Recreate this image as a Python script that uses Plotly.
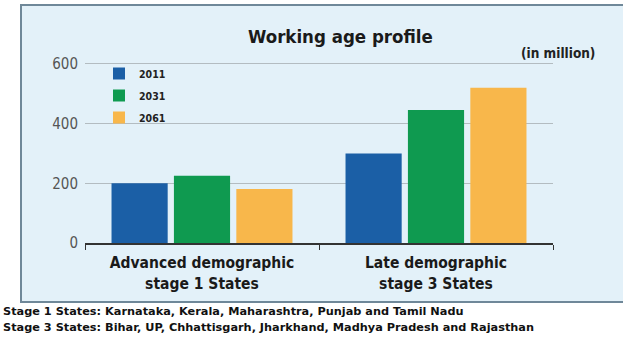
import plotly.graph_objects as go

categories = ["Advanced demographic<br>stage 1 States", "Late demographic<br>stage 3 States"]
years = ["2011", "2031", "2061"]
values_2011 = [200, 300]
values_2031 = [225, 446]
values_2061 = [181, 520]
series = [values_2011, values_2031, values_2061]
colors = ["#1b5fa6", "#0f9a50", "#f8b74b"]
ytickvals = [0, 200, 400, 600]

FONT = "DejaVu Sans Condensed"

fig = go.Figure()
for yr, vals, col in zip(years, series, colors):
    fig.add_trace(go.Bar(x=categories, y=vals, name="<b>" + yr + "</b>", legendgroup=yr,
                         marker=dict(color=col, line=dict(width=0))))

W, H = 623, 338
L, R, T, B = 85, 70, 61, 95
pw, ph = W - L - R, H - T - B

def px_x(x):
    return (x - L) / pw

def px_y(y):
    return (H - B - y) / ph

fig.update_layout(
    width=W, height=H,
    margin=dict(l=L, r=R, t=T, b=B),
    paper_bgcolor="white",
    plot_bgcolor="rgba(0,0,0,0)",
    barmode="group",
    bargap=0.2,
    bargroupgap=0.1,
    font=dict(family=FONT, color="#222222"),
    showlegend=True,
    legend=dict(x=px_x(99), y=px_y(59), xanchor="left", yanchor="top",
                bgcolor="rgba(0,0,0,0)", font=dict(size=10.5, family=FONT, color="#222"),
                itemwidth=30, tracegroupgap=3),
    xaxis=dict(showline=True, linecolor="#333", linewidth=1.5, ticks="outside",
               tickson="boundaries", ticklen=5, tickcolor="#333", ticklabelstandoff=5,
               tickfont=dict(size=15.5, family=FONT, color="#1a1a1a", weight="bold")),
    yaxis=dict(range=[0, 610], tickvals=ytickvals, showgrid=True, gridcolor="#b3bcc1",
               gridwidth=1, zeroline=False, showline=False,
               tickfont=dict(size=15, family=FONT, color="#555"), ticks="outside",
               ticklen=3, tickcolor="rgba(0,0,0,0)"),
    shapes=[
        dict(type="rect", xref="paper", yref="paper", x0=px_x(21), x1=px_x(640),
             y0=px_y(302), y1=px_y(5), fillcolor="#e3f1f9",
             line=dict(color="#6f8899", width=2), layer="below"),
    ],
    annotations=[
        dict(text="<b>Working age profile</b>", x=px_x(340), y=px_y(36), xref="paper", yref="paper",
             xanchor="center", yanchor="middle",
             showarrow=False, font=dict(size=18.5, family=FONT, color="#1a1a1a")),
        dict(text="<b>(in million)</b>", x=px_x(597), y=px_y(53), xref="paper", yref="paper",
             xanchor="right", yanchor="middle", showarrow=False,
             font=dict(size=13.5, family=FONT, color="#222")),
        dict(text="<b>Stage 1 States: Karnataka, Kerala, Maharashtra, Punjab and Tamil Nadu</b>",
             x=px_x(1), y=px_y(311), xref="paper", yref="paper", xanchor="left", yanchor="middle",
             showarrow=False, font=dict(size=11.3, family="DejaVu Sans", color="#111")),
        dict(text="<b>Stage 3 States: Bihar, UP, Chhattisgarh, Jharkhand, Madhya Pradesh and Rajasthan</b>",
             x=px_x(1), y=px_y(327), xref="paper", yref="paper", xanchor="left", yanchor="middle",
             showarrow=False, font=dict(size=11.3, family="DejaVu Sans", color="#111")),
    ],
)

fig.write_html("out.html", config={"displayModeBar": False},
               post_script="document.body.style.margin='0';")
